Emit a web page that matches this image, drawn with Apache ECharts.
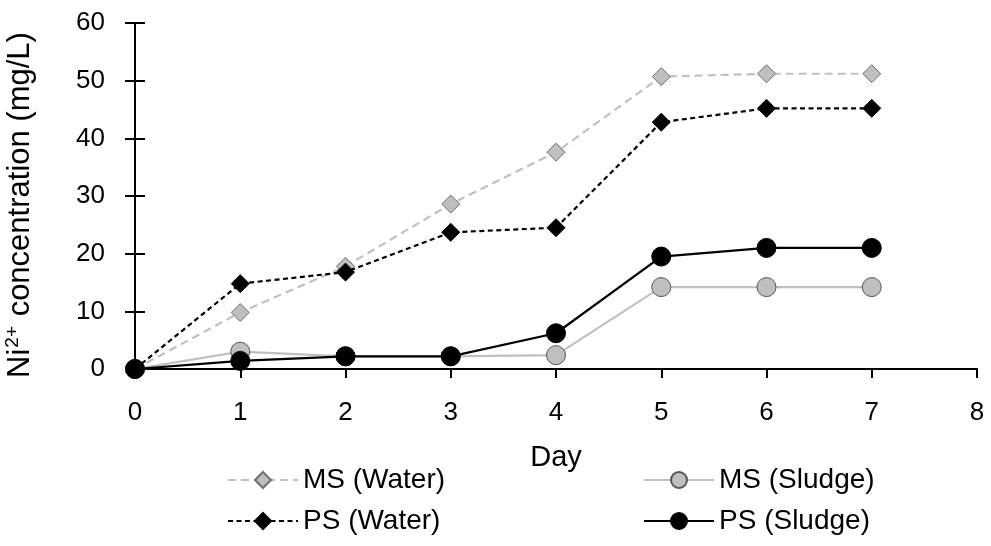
<!DOCTYPE html>
<html>
<head>
<meta charset="utf-8">
<script src="https://cdn.jsdelivr.net/npm/echarts@6/dist/echarts.min.js"></script>
<style>
  html, body { margin: 0; padding: 0; background: #fff; }
  #chart { width: 991px; height: 546px; }
</style>
</head>
<body>
<div id="chart"></div>
<script>
// Sampling days
var days = [0, 1, 2, 3, 4, 5, 6, 7];

// Ni2+ concentration (mg/L) for each medium
var msWater  = [0, 9.8, 17.8, 28.6, 37.6, 50.7, 51.2, 51.2];
var psWater  = [0, 14.8, 16.8, 23.7, 24.5, 42.8, 45.2, 45.2];
var msSludge = [0, 3.0, 2.2, 2.2, 2.4, 14.2, 14.2, 14.2];
var psSludge = [0, 1.4, 2.2, 2.2, 6.2, 19.5, 21.0, 21.0];

var xTicks = { min: 0, max: 8, step: 1 };
var yTicks = { min: 0, max: 60, step: 10 };

function pairs(vals) {
  return days.map(function (d, i) { return [d, vals[i]]; });
}

var axisFont = 'Liberation Sans, Arial, sans-serif';

var chart = echarts.init(document.getElementById('chart'), null, { renderer: 'canvas' });

chart.setOption({
  backgroundColor: '#ffffff',
  animation: false,
  grid: { left: 135, right: 14, top: 23, bottom: 177, containLabel: false, outerBoundsMode: 'none' },
  xAxis: {
    type: 'value',
    min: xTicks.min, max: xTicks.max, interval: xTicks.step,
    name: 'Day',
    nameLocation: 'middle',
    nameGap: 74,
    nameTextStyle: { fontFamily: axisFont, fontSize: 29, color: '#000' },
    axisLine: { show: true, onZero: false, lineStyle: { color: '#000', width: 2 } },
    axisTick: { show: true, length: 9, lineStyle: { color: '#000', width: 2 } },
    axisLabel: { margin: 31, fontFamily: axisFont, fontSize: 26, color: '#000' },
    splitLine: { show: false }
  },
  yAxis: [{
    type: 'value',
    min: yTicks.min, max: yTicks.max, interval: yTicks.step,
    name: '{a|Ni}{s|2+}{a| concentration (mg/L)}',
    nameLocation: 'middle',
    nameGap: 97,
    nameRotate: 90,
    nameTextStyle: {
      padding: [0, 18, 0, 0],
      rich: {
        a: { fontFamily: axisFont, fontSize: 31, color: '#000' },
        s: { fontFamily: axisFont, fontSize: 19, color: '#000', verticalAlign: 'top', padding: [0, 1, 16, 1] }
      }
    },
    axisLine: { show: true, onZero: false, lineStyle: { color: '#000', width: 2 } },
    axisTick: { show: true, length: 10, lineStyle: { color: '#000', width: 2 } },
    axisLabel: { margin: 30, fontFamily: axisFont, fontSize: 26, color: '#000' },
    splitLine: { show: false }
  }, {
    // inner half of the crossing y ticks
    type: 'value',
    position: 'left',
    min: yTicks.min, max: yTicks.max, interval: yTicks.step,
    axisLine: { show: false },
    axisTick: { show: true, inside: true, length: 10, lineStyle: { color: '#000', width: 2 } },
    axisLabel: { show: false },
    splitLine: { show: false }
  }],
  legend: [{
    data: ['MS (Water)', 'PS (Water)'],
    orient: 'vertical',
    left: 222, top: 461,
    itemWidth: 70, itemHeight: 20, itemGap: 13,
    textStyle: { fontFamily: axisFont, fontSize: 28, color: '#000', padding: [0, 0, 0, 0] }
  }, {
    data: ['MS (Sludge)', 'PS (Sludge)'],
    orient: 'vertical',
    left: 638, top: 461,
    itemWidth: 70, itemHeight: 20, itemGap: 13,
    textStyle: { fontFamily: axisFont, fontSize: 28, color: '#000', padding: [0, 0, 0, 0] }
  }],
  series: [{
    name: 'MS (Water)',
    type: 'line',
    data: pairs(msWater),
    symbol: 'diamond', symbolSize: 18,
    lineStyle: { color: '#c0c0c0', width: 2.2, type: [8, 5] },
    itemStyle: { color: '#bfbfbf', borderColor: '#6f6f6f', borderWidth: 1 },
    z: 2
  }, {
    name: 'MS (Sludge)',
    type: 'line',
    data: pairs(msSludge),
    symbol: 'circle', symbolSize: 19,
    lineStyle: { color: '#c0c0c0', width: 2.2, type: 'solid' },
    itemStyle: { color: '#bfbfbf', borderColor: '#555555', borderWidth: 1 },
    z: 3
  }, {
    name: 'PS (Water)',
    type: 'line',
    data: pairs(psWater),
    symbol: 'diamond', symbolSize: 18,
    lineStyle: { color: '#000', width: 2.2, type: [5, 3.5] },
    itemStyle: { color: '#000', borderColor: '#000', borderWidth: 1 },
    z: 4
  }, {
    name: 'PS (Sludge)',
    type: 'line',
    data: pairs(psSludge),
    symbol: 'circle', symbolSize: 19,
    lineStyle: { color: '#000', width: 2.2, type: 'solid' },
    itemStyle: { color: '#000', borderColor: '#000', borderWidth: 1 },
    z: 5
  }]
});
</script>
</body>
</html>
